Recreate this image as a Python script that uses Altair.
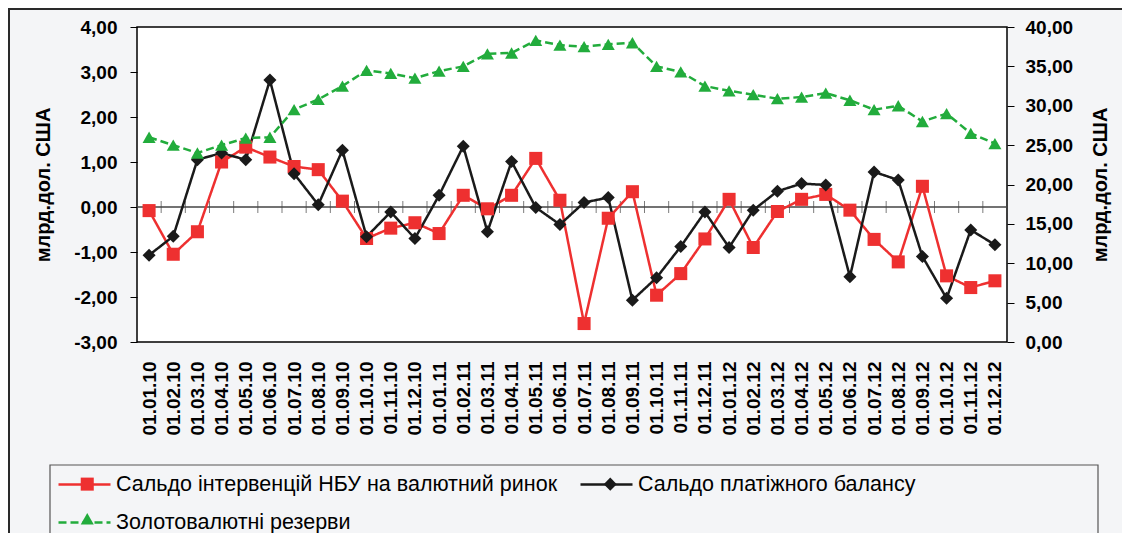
import altair as alt
import pandas as pd

dates = ["01.01.10", "01.02.10", "01.03.10", "01.04.10", "01.05.10", "01.06.10",
         "01.07.10", "01.08.10", "01.09.10", "01.10.10", "01.11.10", "01.12.10",
         "01.01.11", "01.02.11", "01.03.11", "01.04.11", "01.05.11", "01.06.11",
         "01.07.11", "01.08.11", "01.09.11", "01.10.11", "01.11.11", "01.12.11",
         "01.01.12", "01.02.12", "01.03.12", "01.04.12", "01.05.12", "01.06.12",
         "01.07.12", "01.08.12", "01.09.12", "01.10.12", "01.11.12", "01.12.12"]

interventions = [-0.08, -1.05, -0.55, 1.00, 1.33, 1.11, 0.90, 0.83, 0.13, -0.70, -0.47, -0.35,
                 -0.59, 0.26, -0.04, 0.26, 1.08, 0.15, -2.59, -0.25, 0.34, -1.96, -1.48, -0.71,
                 0.17, -0.90, -0.10, 0.17, 0.28, -0.07, -0.72, -1.22, 0.46, -1.53, -1.79, -1.64]

balance = [-1.07, -0.65, 1.05, 1.20, 1.05, 2.82, 0.74, 0.05, 1.26, -0.66, -0.11, -0.70,
           0.26, 1.35, -0.55, 1.01, -0.01, -0.39, 0.10, 0.21, -2.07, -1.57, -0.88, -0.11,
           -0.90, -0.07, 0.35, 0.52, 0.49, -1.55, 0.78, 0.60, -1.10, -2.03, -0.51, -0.84]

reserves = [26.0, 25.0, 24.0, 25.0, 25.9, 26.0, 29.5, 30.8, 32.5, 34.5, 34.1, 33.5,
            34.4, 35.0, 36.6, 36.7, 38.3, 37.7, 37.5, 37.8, 38.0, 35.0, 34.3, 32.5,
            31.9, 31.4, 30.9, 31.1, 31.6, 30.7, 29.5, 30.0, 28.0, 29.0, 26.5, 25.2]

series_names = ["Сальдо інтервенцій НБУ на валютний ринок",
                "Сальдо платіжного балансу",
                "Золотовалютні резерви"]
series_codes = ["a", "b", "c"]
series_colors = ["#ee3030", "#1a1a1a", "#22ac3c"]
series_shapes = ["square", "diamond", "triangle-up"]
series_dash = [[1, 0], [1, 0], [8, 4]]

FONT = "Liberation Sans"
LEG_FS = 21.5

left_rows = []
for name, code, vals in [(series_names[0], "a", interventions), (series_names[1], "b", balance)]:
    for d, v in zip(dates, vals):
        left_rows.append({"date": d, "val": v, "series": name, "code": code})
left_df = pd.DataFrame(left_rows)
right_df = pd.DataFrame({"date": dates, "res": reserves,
                         "series": series_names[2], "code": "c"})
cat_df = pd.DataFrame({"date": dates})

x_enc = alt.X("date:N", sort=dates,
              scale=alt.Scale(type="point", padding=0.5),
              axis=alt.Axis(title=None, labelAngle=270, labelFont=FONT, labelFontSize=19,
                            labelFontWeight="bold", labelColor="black", labelPadding=19,
                            ticks=False, domain=False, grid=False))

lab_expr = "replace(replace(format(datum.value, '.2f'), '.', ','), '\u2212', '-')"

y_left = alt.Y("val:Q", scale=alt.Scale(domain=[-3, 4], nice=False, zero=False),
               axis=alt.Axis(orient="left", values=[-3, -2, -1, 0, 1, 2, 3, 4], labelExpr=lab_expr,
                             labelFont=FONT, labelFontSize=19, labelFontWeight="bold",
                             labelColor="black", labelPadding=13, tickSize=7, tickColor="black",
                             domain=False, grid=False,
                             title="млрд.дол. США", titleFont=FONT, titleFontSize=20,
                             titleFontWeight="bold", titleColor="black", titleAngle=270,
                             titleX=-94, titleY=157.5, titleAlign="center", titleBaseline="middle"))

y_right = alt.Y("res:Q", scale=alt.Scale(domain=[0, 40], nice=False),
                axis=alt.Axis(orient="right", values=[0, 5, 10, 15, 20, 25, 30, 35, 40], labelExpr=lab_expr,
                              labelFont=FONT, labelFontSize=19, labelFontWeight="bold",
                              labelColor="black", labelPadding=11, tickSize=7, tickColor="black",
                              domain=False, grid=False,
                              title="млрд.дол. США", titleFont=FONT, titleFontSize=20,
                              titleFontWeight="bold", titleColor="black", titleAngle=270,
                              titleX=93, titleY=157.5, titleAlign="center", titleBaseline="middle"))

line_legend = alt.Legend(title=None, orient="none", legendX=-80, legendY=430, columns=2,
                         direction="horizontal",
                         symbolType="stroke", symbolSize=2704, symbolStrokeWidth=2.5,
                         labelFont=FONT, labelFontSize=LEG_FS, labelColor="black", labelLimit=1000,
                         labelOffset=4, columnPadding=17, rowPadding=-27, padding=0)

label_map = ("datum.value == 'a' ? '" + series_names[0] + "' : datum.value == 'b' ? '"
             + series_names[1] + "' : '" + series_names[2] + "'")
shape_legend = alt.Legend(title=None, orient="none", legendX=-60.5, legendY=446, columns=2,
                          direction="horizontal",
                          symbolSize=170, symbolStrokeWidth=0, labelExpr=label_map,
                          labelFont=FONT, labelFontSize=LEG_FS, labelColor="rgba(0,0,0,0)",
                          labelLimit=1000, labelOffset=4, columnPadding=56, rowPadding=12,
                          padding=0)

color_enc = alt.Color("series:N", scale=alt.Scale(domain=series_names, range=series_colors),
                      legend=line_legend)
dash_enc = alt.StrokeDash("series:N", scale=alt.Scale(domain=series_names, range=series_dash),
                          legend=line_legend)
fill_enc = alt.Fill("code:N", scale=alt.Scale(domain=series_codes, range=series_colors),
                    legend=shape_legend)
shape_enc = alt.Shape("code:N", scale=alt.Scale(domain=series_codes, range=series_shapes),
                      legend=shape_legend)

# decorations
one = pd.DataFrame({"k": [0]})
outer_frame = alt.Chart(one).mark_rect(fill="transparent", stroke="#2a2a2a", strokeWidth=2).encode(
    x=alt.value(-128), x2=alt.value(1200), y=alt.value(-18), y2=alt.value(700))
legend_box = alt.Chart(one).mark_rect(fill="transparent", stroke="#555555", strokeWidth=1.2).encode(
    x=alt.value(-87), x2=alt.value(961), y=alt.value(438), y2=alt.value(700))

zero_line = alt.Chart(one).mark_rule(color="#444444", strokeWidth=1.3).encode(y=alt.datum(0))
zero_ticks = alt.Chart(cat_df).mark_tick(orient="vertical", size=12, thickness=1,
                                         color="#444444", xOffset=12.08).encode(
    x=x_enc, y=alt.datum(0))

left_lines = alt.Chart(left_df).mark_line(strokeWidth=2.5).encode(
    x=x_enc, y=y_left, color=color_enc, strokeDash=dash_enc)
left_points = alt.Chart(left_df).mark_point(filled=True, size=170, opacity=1).encode(
    x=x_enc, y=y_left, fill=fill_enc, shape=shape_enc)

left_layer = alt.layer(zero_line, zero_ticks, left_lines, left_points)

right_lines = alt.Chart(right_df).mark_line(strokeWidth=2.5).encode(
    x=x_enc, y=y_right, color=color_enc, strokeDash=dash_enc)
right_points = alt.Chart(right_df).mark_point(filled=True, size=170, opacity=1).encode(
    x=x_enc, y=y_right, fill=fill_enc, shape=shape_enc)
right_layer = alt.layer(right_lines, right_points)

chart = alt.layer(outer_frame, legend_box, left_layer, right_layer).resolve_scale(
    y="independent"
).properties(
    width=870, height=315,
    padding={"left": 129, "top": 19, "right": 115, "bottom": 191},
    autosize=alt.AutoSizeParams(type="none"),
    background="#f4f5f7",
).configure_view(stroke="black", strokeWidth=1.5, fill="white")

chart.save("out.html", embed_options={"renderer": "svg", "actions": False})
